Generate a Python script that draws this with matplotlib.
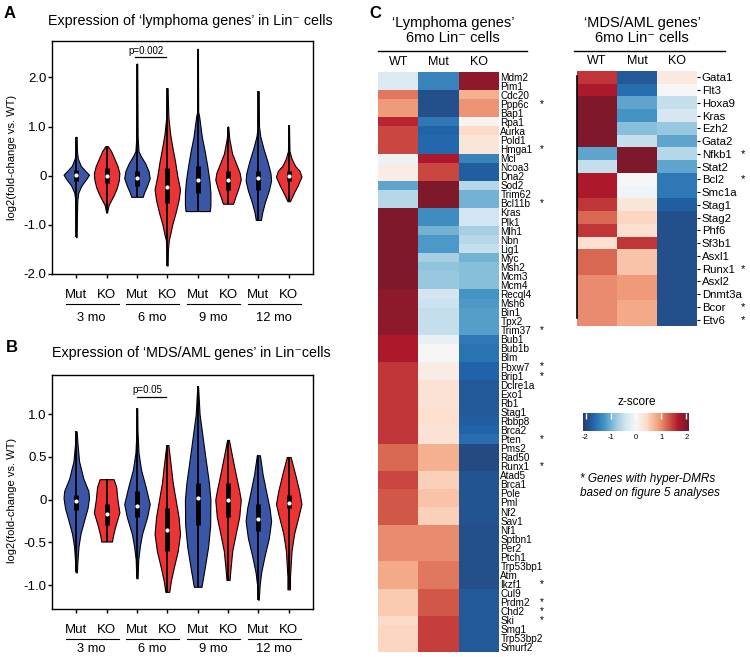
import numpy as np
import matplotlib
matplotlib.use('Agg')
import matplotlib.pyplot as plt
from matplotlib.colors import LinearSegmentedColormap
from matplotlib.lines import Line2D
from matplotlib.cm import ScalarMappable
from matplotlib.colors import Normalize

plt.rcParams['font.family'] = ['Liberation Sans', 'DejaVu Sans']

W, H = 750, 657

# ---------------- datos violines ----------------
grupos = ['3 mo', '6 mo', '9 mo', '12 mo']
genot = ['Mut', 'KO'] * 4
col_violin = ['#3b56a6', '#ec3335'] * 4

# panel A: perfil (valor y, ancho relativo)
a_y = [
    [-1.25, -0.8, -0.5, -0.35, -0.2, -0.08, 0.02, 0.1, 0.2, 0.35, 0.5, 0.79],
    [-0.75, -0.6, -0.5, -0.4, -0.25, -0.1, 0.05, 0.2, 0.35, 0.5, 0.6],
    [-0.43, -0.35, -0.2, -0.05, 0.1, 0.25, 0.4, 0.5, 0.8, 1.3, 2.28],
    [-1.83, -1.5, -1.3, -1.2, -1.0, -0.75, -0.5, -0.28, 0.0, 0.3, 0.6, 0.85, 1.2, 1.78],
    [-0.72, -0.6, -0.35, -0.1, 0.2, 0.5, 0.8, 1.2, 1.3, 2.58],
    [-0.57, -0.45, -0.25, -0.08, 0.05, 0.2, 0.45, 0.75, 1.0],
    [-0.9, -0.75, -0.55, -0.3, -0.1, 0.05, 0.3, 0.55, 0.8, 1.0, 1.72],
    [-0.52, -0.45, -0.35, -0.2, -0.02, 0.1, 0.2, 0.35, 0.5, 1.03],
]
a_w = [
    [0.03, 0.05, 0.08, 0.15, 0.4, 0.75, 1.0, 0.7, 0.35, 0.12, 0.05, 0.03],
    [0.03, 0.15, 0.35, 0.55, 0.8, 0.95, 1.0, 0.85, 0.6, 0.35, 0.1],
    [0.45, 0.55, 0.8, 1.0, 0.9, 0.65, 0.3, 0.12, 0.05, 0.04, 0.02],
    [0.02, 0.05, 0.12, 0.22, 0.38, 0.65, 0.88, 1.0, 0.78, 0.6, 0.38, 0.22, 0.08, 0.02],
    [0.95, 1.0, 1.0, 0.92, 0.75, 0.55, 0.32, 0.12, 0.04, 0.02],
    [0.4, 0.55, 0.82, 1.0, 0.92, 0.7, 0.32, 0.1, 0.02],
    [0.2, 0.3, 0.5, 0.82, 1.0, 0.95, 0.7, 0.4, 0.15, 0.05, 0.02],
    [0.1, 0.22, 0.4, 0.7, 1.0, 0.85, 0.5, 0.22, 0.06, 0.02],
]
a_med = [0.02, 0.0, -0.05, -0.22, -0.08, -0.08, -0.05, 0.0]
a_q1 = [-0.1, -0.15, -0.2, -0.55, -0.35, -0.3, -0.3, -0.1]
a_q3 = [0.12, 0.15, 0.1, 0.15, 0.2, 0.1, 0.1, 0.1]

# panel B
b_y = [
    [-0.85, -0.75, -0.55, -0.4, -0.25, -0.1, 0.02, 0.1, 0.25, 0.45, 0.68, 0.8],
    [-0.49, -0.42, -0.3, -0.15, 0.0, 0.15, 0.24],
    [-0.92, -0.7, -0.55, -0.4, -0.2, -0.05, 0.15, 0.35, 0.55, 0.8, 1.07],
    [-1.08, -0.95, -0.8, -0.6, -0.4, -0.2, 0.0, 0.2, 0.4, 0.64],
    [-1.02, -0.8, -0.55, -0.3, 0.0, 0.2, 0.5, 0.8, 1.0, 1.33],
    [-0.94, -0.8, -0.6, -0.4, -0.2, 0.0, 0.1, 0.3, 0.5, 0.7],
    [-1.17, -1.0, -0.85, -0.65, -0.45, -0.25, -0.1, 0.1, 0.3, 0.52],
    [-1.05, -0.9, -0.6, -0.4, -0.2, -0.05, 0.1, 0.3, 0.5],
]
b_w = [
    [0.05, 0.08, 0.17, 0.33, 0.6, 0.88, 1.0, 0.95, 0.55, 0.22, 0.08, 0.03],
    [0.42, 0.5, 0.7, 1.0, 0.85, 0.75, 0.55],
    [0.05, 0.1, 0.22, 0.4, 0.8, 1.0, 0.68, 0.32, 0.12, 0.04, 0.02],
    [0.15, 0.28, 0.5, 0.82, 1.0, 0.88, 0.65, 0.42, 0.27, 0.08],
    [0.3, 0.55, 0.82, 0.98, 1.0, 0.88, 0.6, 0.33, 0.15, 0.03],
    [0.12, 0.2, 0.33, 0.6, 0.88, 1.0, 0.88, 0.6, 0.33, 0.07],
    [0.03, 0.1, 0.22, 0.5, 0.82, 1.0, 0.88, 0.6, 0.33, 0.12],
    [0.1, 0.1, 0.22, 0.42, 0.76, 1.0, 0.82, 0.5, 0.15],
]
b_med = [-0.02, -0.17, -0.07, -0.36, 0.02, 0.0, -0.23, -0.04]
b_q1 = [-0.12, -0.3, -0.2, -0.6, -0.3, -0.2, -0.37, -0.1]
b_q3 = [0.05, -0.05, 0.1, -0.1, 0.2, 0.2, -0.05, 0.05]

# ---------------- datos heatmaps ----------------
linf_genes = ['Mdm2', 'Pim1', 'Cdc20', 'Ppp6c', 'Bap1', 'Rpa1', 'Aurka', 'Pold1', 'Hmga1', 'Mcl',
              'Ncoa3', 'Dna2', 'Sod2', 'Trim62', 'Bcl11b', 'Kras', 'Plk1', 'Mlh1', 'Nbn', 'Lig1',
              'Myc', 'Msh2', 'Mcm3', 'Mcm4', 'Recql4', 'Msh6', 'Bin1', 'Tpx2', 'Trim37', 'Bub1',
              'Bub1b', 'Blm', 'Fbxw7', 'Brip1', 'Dclre1a', 'Exo1', 'Rb1', 'Stag1', 'Rbbp8', 'Brca2',
              'Pten', 'Pms2', 'Rad50', 'Runx1', 'Atad5', 'Brca1', 'Pole', 'Pml', 'Nf2', 'Sav1',
              'Nf1', 'Sptbn1', 'Per2', 'Ptch1', 'Trp53bp1', 'Atm', 'Ikzf1', 'Cul9', 'Prdm2', 'Chd2',
              'Ski', 'Smg1', 'Trp53bp2', 'Smurf2']
linf_wt = [-0.3, -0.3, 1.1, 0.9, 0.9, 1.6, 1.4, 1.4, 1.4, -0.1,
           0.15, 0.15, -1.1, -0.6, -0.6, 2.0, 2.0, 2.0, 2.0, 2.0,
           2.0, 2.0, 2.0, 2.0, 1.9, 1.9, 1.9, 1.9, 1.9, 1.7,
           1.7, 1.7, 1.5, 1.5, 1.5, 1.5, 1.5, 1.5, 1.5, 1.5,
           1.5, 1.2, 1.2, 1.2, 1.4, 1.4, 1.3, 1.3, 1.3, 1.3,
           1.0, 1.0, 1.0, 1.0, 0.8, 0.8, 0.8, 0.55, 0.55, 0.55,
           0.4, 0.45, 0.45, 0.45]
linf_mut = [-1.4, -1.4, -1.9, -1.9, -1.9, -1.5, -1.7, -1.65, -1.65, 1.7,
            1.4, 1.4, 2.0, 2.0, 2.0, -1.3, -1.3, -1.0, -1.2, -1.2,
            -0.7, -0.85, -0.8, -0.8, -0.4, -0.45, -0.5, -0.5, -0.5, -0.15,
            0.0, 0.0, 0.15, 0.15, 0.3, 0.3, 0.3, 0.35, 0.35, 0.3,
            0.3, 0.75, 0.75, 0.75, 0.5, 0.5, 0.6, 0.6, 0.5, 0.5,
            1.0, 1.0, 1.0, 1.0, 1.1, 1.1, 1.1, 1.3, 1.3, 1.3,
            1.45, 1.45, 1.45, 1.45]
linf_ko = [1.9, 1.9, 0.75, 0.95, 0.95, 0.05, 0.4, 0.25, 0.25, -1.4,
           -1.75, -1.75, -0.6, -1.0, -1.0, -0.4, -0.4, -0.7, -0.6, -0.5,
           -1.0, -0.9, -0.9, -0.9, -1.25, -1.2, -1.15, -1.15, -1.15, -1.5,
           -1.55, -1.55, -1.7, -1.7, -1.8, -1.8, -1.8, -1.8, -1.75, -1.7,
           -1.6, -1.95, -1.95, -1.95, -1.85, -1.85, -1.85, -1.85, -1.85, -1.85,
           -1.9, -1.9, -1.9, -1.9, -1.9, -1.9, -1.9, -1.8, -1.8, -1.8,
           -1.8, -1.8, -1.8, -1.8]
linf_dmr = ['Ppp6c', 'Hmga1', 'Bcl11b', 'Trim37', 'Fbxw7', 'Brip1', 'Pten', 'Runx1',
            'Ikzf1', 'Prdm2', 'Chd2', 'Ski']

mds_genes = ['Gata1', 'Flt3', 'Hoxa9', 'Kras', 'Ezh2', 'Gata2', 'Nfkb1', 'Stat2', 'Bcl2', 'Smc1a',
             'Stag1', 'Stag2', 'Phf6', 'Sf3b1', 'Asxl1', 'Runx1', 'Asxl2', 'Dnmt3a', 'Bcor', 'Etv6']
mds_wt = [1.5, 1.7, 2.0, 2.0, 2.0, 2.0, -1.1, -0.5, 1.7, 1.7,
          1.5, 1.2, 1.5, 0.35, 1.2, 1.2, 1.0, 1.0, 1.0, 1.0]
mds_mut = [-1.8, -1.6, -1.1, -1.25, -0.9, -0.5, 2.0, 2.0, 0.0, -0.05,
           0.25, 0.45, 0.35, 1.5, 0.6, 0.6, 0.9, 0.9, 0.8, 0.8]
mds_ko = [0.2, 0.0, -0.5, -0.35, -0.8, -1.1, -0.6, -1.1, -1.5, -1.5,
          -1.75, -1.9, -1.9, -1.9, -1.9, -1.9, -1.9, -1.9, -1.9, -1.9]
mds_dmr = ['Nfkb1', 'Bcl2', 'Runx1', 'Bcor', 'Etv6']

columnas = ['WT', 'Mut', 'KO']
cb_ticks = [-2, -1, 0, 1, 2]
cb_labels = ['-2', '-1', '0', '1', '2']

cmap = LinearSegmentedColormap.from_list('zs', ['#253b6e', '#2166ac', '#4393c3', '#92c5de', '#d1e5f0',
                                               '#f7f7f7', '#fddbc7', '#f4a582', '#d6604d', '#b2182b',
                                               '#6d1a2c'])


def px(l, t, r, b):
    return [l / W, 1 - b / H, (r - l) / W, (b - t) / H]


def violines(ax, ys, ws, med, q1, q3):
    stats = []
    for y, w, m in zip(ys, ws, med):
        stats.append({'coords': np.array(y), 'vals': np.array(w), 'mean': m,
                      'median': m, 'min': y[0], 'max': y[-1]})
    pos = np.arange(len(stats))
    parts = ax.violin(stats, positions=pos, widths=0.84, showmeans=False,
                      showextrema=False, showmedians=False)
    for body, c in zip(parts['bodies'], col_violin):
        body.set_facecolor(c)
        body.set_edgecolor('black')
        body.set_linewidth(0.8)
        body.set_alpha(1)
    ax.vlines(pos, [y[0] for y in ys], [y[-1] for y in ys], color='k', lw=1.3)
    ax.vlines(pos, q1, q3, color='k', lw=3.5)
    ax.scatter(pos, med, s=9, color='white', zorder=3, linewidths=0)


def ejes(ax, ylim, yticks, ylabels, y_grupo):
    ax.set_xlim(-0.8, 7.8)
    ax.set_ylim(ylim)
    ax.set_xticks(range(8))
    ax.set_xticklabels(genot, fontsize=9.5)
    ax.set_yticks(yticks)
    ax.set_yticklabels(ylabels, fontsize=9.5)
    ax.tick_params(axis='x', length=3, width=1, pad=8)
    ax.tick_params(axis='y', length=3, width=1, pad=1)
    for s in ax.spines.values():
        s.set_linewidth(1)
    tr = ax.get_xaxis_transform()
    for i, g in enumerate(grupos):
        ax.plot([2 * i - 0.35, 2 * i + 1.4], [-0.13, -0.13], transform=tr,
                clip_on=False, color='k', lw=0.8)
        ax.text(2 * i + 0.5, y_grupo, g, transform=tr, ha='center', va='center', fontsize=9.3)


fig = plt.figure(figsize=(W / 100, H / 100), dpi=100)

# ---- A ----
axA = fig.add_axes(px(52, 41, 313, 274))
violines(axA, a_y, a_w, a_med, a_q1, a_q3)
ejes(axA, (-2.0, 2.74), [2, 1, 0, -1, -2], ['2.0', '1.0', '0', '-1.0', '-2.0'], -0.188)
axA.plot([1.94, 2.96], [2.41, 2.41], color='k', lw=0.9)
axA.text(2.3, 2.53, 'p=0.002', ha='center', va='center', fontsize=7)

# ---- B ----
axB = fig.add_axes(px(52, 375, 313, 609))
violines(axB, b_y, b_w, b_med, b_q1, b_q3)
ejes(axB, (-1.28, 1.46), [1, 0.5, 0, -0.5, -1], ['1.0', '0.5', '0', '-0.5', '-1.0'], -0.172)
axB.plot([2.0, 2.96], [1.2, 1.2], color='k', lw=0.9)
axB.text(2.33, 1.29, 'p=0.05', ha='center', va='center', fontsize=7)

for ytxt in (157, 500):
    fig.text(12 / W, 1 - ytxt / H, 'log2(fold-change vs. WT)', rotation=90,
             ha='center', va='center', fontsize=8)

fig.text(190 / W, 1 - 21 / H, 'Expression of \u2018lymphoma genes\u2019 in Lin\u207b cells',
         ha='center', va='center', fontsize=10.3)
fig.text(191 / W, 1 - 353 / H, 'Expression of \u2018MDS/AML genes\u2019 in Lin\u207bcells',
         ha='center', va='center', fontsize=10.3)
fig.text(10 / W, 1 - 13 / H, 'A', ha='center', va='center', fontsize=12, weight='bold')
fig.text(12 / W, 1 - 347 / H, 'B', ha='center', va='center', fontsize=12, weight='bold')
fig.text(375 / W, 1 - 13 / H, 'C', ha='center', va='center', fontsize=12, weight='bold')


# ---- C heatmaps ----
def heat(ax, valores, genes, fs, tick_len, marcados, x_ast):
    data = np.column_stack(valores)
    ax.imshow(data, cmap=cmap, vmin=-2.1, vmax=2.1, aspect='auto', interpolation='nearest')
    ax.xaxis.tick_top()
    ax.set_xticks(range(3))
    ax.set_xticklabels(columnas, fontsize=9)
    ax.tick_params(axis='x', length=0, pad=3)
    ax.yaxis.tick_right()
    ax.set_yticks(range(len(genes)))
    ax.set_yticklabels(genes, fontsize=fs)
    ax.tick_params(axis='y', length=tick_len, width=0.8, pad=1)
    for s in ax.spines.values():
        s.set_visible(False)
    tr = ax.get_yaxis_transform()
    for i, g in enumerate(genes):
        if g in marcados:
            ax.text(x_ast, i, '*', transform=tr, ha='center', va='center', fontsize=fs)


axL = fig.add_axes(px(378, 72, 499, 652))
heat(axL, [linf_wt, linf_mut, linf_ko], linf_genes, 7.2, 0, linf_dmr, 1.355)

axM = fig.add_axes(px(577, 71, 697, 326))
heat(axM, [mds_wt, mds_mut, mds_ko], mds_genes, 8.2, 2.5, mds_dmr, 1.383)
axM.plot([-0.5, -0.5], [-0.1, 18.9], color='k', lw=1.2, clip_on=False)

fig.text(453 / W, 1 - 30.5 / H, '\u2018Lymphoma genes\u2019\n6mo Lin\u207b cells',
         ha='center', va='center', fontsize=10.5, linespacing=1.1)
fig.text(642 / W, 1 - 30.5 / H, '\u2018MDS/AML genes\u2019\n6mo Lin\u207b cells',
         ha='center', va='center', fontsize=10.5, linespacing=1.1)
fig.add_artist(Line2D([378 / W, 527 / W], [1 - 51 / H] * 2, color='k', lw=1))
fig.add_artist(Line2D([574 / W, 725 / W], [1 - 51 / H] * 2, color='k', lw=1))

# colorbar
cax = fig.add_axes(px(583, 413, 689, 431))
cb = fig.colorbar(ScalarMappable(norm=Normalize(-2.1, 2.1), cmap=cmap), cax=cax,
                  orientation='horizontal', ticks=cb_ticks)
cb.set_ticklabels(cb_labels)
cb.outline.set_visible(False)
cax.tick_params(axis='x', top=True, bottom=False, labelbottom=True, direction='in',
                color='white', length=4, width=1, labelsize=5.5, pad=2)
fig.text(637 / W, 1 - 402 / H, 'z-score', ha='center', va='center', fontsize=8.5)

fig.text(580 / W, 1 - 486 / H, '* Genes with hyper-DMRs\nbased on figure 5 analyses',
         ha='left', va='center', fontsize=8.5, style='italic', linespacing=1.2)

fig.savefig('out.png', dpi=100)
